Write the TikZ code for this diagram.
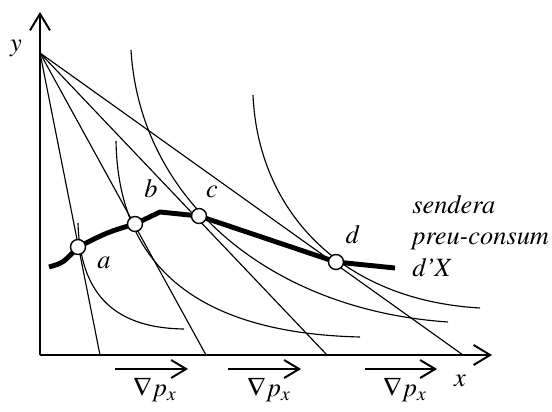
\documentclass[tikz,border=0pt]{standalone}
\usepackage[T1]{fontenc}
\usepackage{mathptmx}
\usetikzlibrary{arrows.meta}

\begin{document}
\begin{tikzpicture}[x=0.02cm, y=-0.02cm, font=\fontsize{15}{18}\selectfont,
    >={Straight Barb[length=3.3mm, width=4mm]},
    axis/.style={line width=1.1pt},
    thin line/.style={line width=0.65pt},
    punt/.style={draw, circle, fill=white, line width=0.8pt, minimum size=0.3cm, inner sep=0pt},
    sendera/.style={line width=2.8pt, line join=round},
    shift arrow/.style={line width=1.1pt, -{Straight Barb[length=3mm, width=3.6mm]}}]
    \useasboundingbox (0,0) rectangle (552,412);
    % axes
    \coordinate (O) at (40,355);
    \coordinate (xtip) at (492,355);
    \coordinate (ytip) at (40,12);
    \draw[axis, ->] (O) -- (xtip);
    \draw[axis, ->] (O) -- (ytip);
    \node[anchor=base] (xlab) at (460,387) {$x$};
    \node[anchor=base] (ylab) at (16,52) {$y$};
    % budget lines
    \coordinate (Y0) at (40,53);
    \coordinate (X1) at (100,355);
    \coordinate (X2) at (206,355);
    \coordinate (X3) at (327,355);
    \coordinate (X4) at (463,355);
    \foreach \p in {X1,X2,X3,X4}
        \draw[thin line] (Y0) -- (\p);
    % indifference curves
    \draw[thin line] (78,223) .. controls (80,290) and (110,328) .. (184,329);
    \draw[thin line] (116,141) .. controls (118,260) and (190,333) .. (360,337);
    \draw[thin line] (131,50) .. controls (140,200) and (270,310) .. (448,322);
    \draw[thin line] (253,95) .. controls (258,210) and (340,300) .. (480,308);
    % price-consumption path
    \coordinate (pa) at (78,247);
    \coordinate (pb) at (135,224);
    \coordinate (pc) at (199,216);
    \coordinate (pd) at (336,262);
    \draw[sendera] (49,267) .. controls (63,263) .. (pa)
        .. controls (108,232) .. (pb) -- (160,212) -- (pc) -- (pd) -- (395,268);
    \node[punt] (a) at (pa) {};
    \node[punt] (b) at (pb) {};
    \node[punt] (c) at (pc) {};
    \node[punt] (d) at (pd) {};
    \node[anchor=base] (alab) at (104,269) {$a$};
    \node[anchor=base] (blab) at (151,198) {$b$};
    \node[anchor=base] (clab) at (212,198) {$c$};
    \node[anchor=base] (dlab) at (353,244) {$d$};
    \node[anchor=base west, inner sep=0pt] (t1) at (412,214) {\itshape sendera};
    \node[anchor=base west, inner sep=0pt] (t2) at (412,245) {\itshape preu-consum};
    \node[anchor=base west, inner sep=0pt] (t3) at (412,277) {\itshape d'X};
    % price falls
    \foreach \xa/\xb/\xl [count=\i] in {115/188/155, 228/301/269, 365/437/405} {
        \coordinate (s\i) at (\xa,369);
        \coordinate (e\i) at (\xb,369);
        \draw[shift arrow] (s\i) -- (e\i);
        \node[anchor=base] (dp\i) at (\xl,397) {$\nabla p_x$};
    }
\end{tikzpicture}
\end{document}
